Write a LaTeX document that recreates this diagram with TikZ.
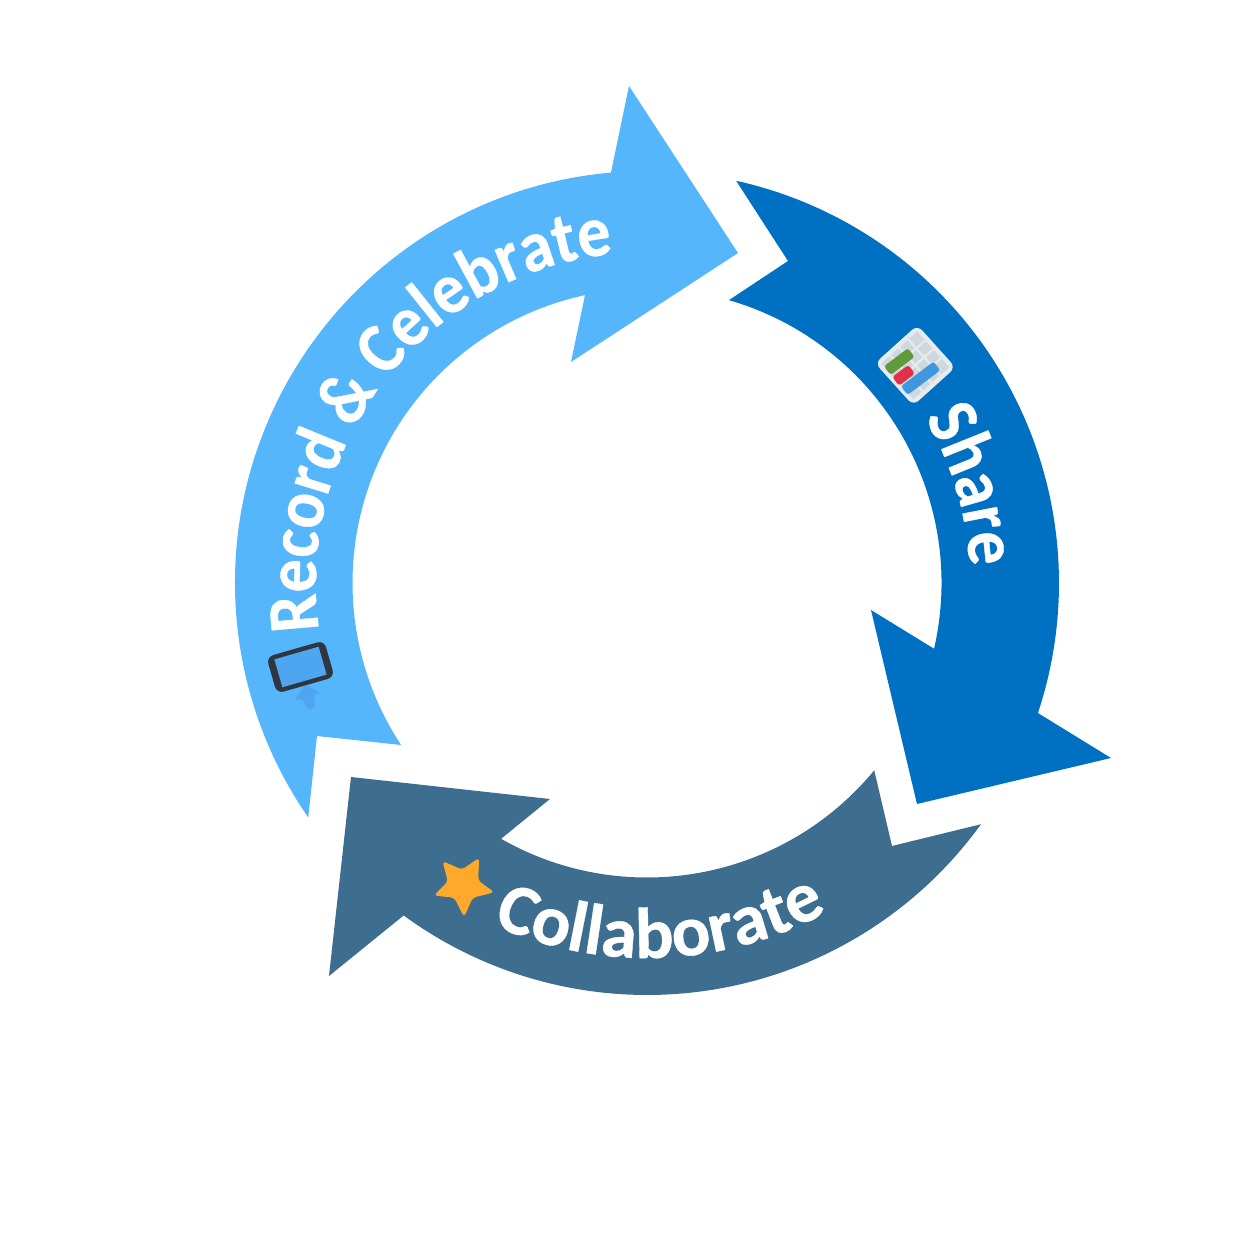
\documentclass[tikz,border=0pt]{standalone}
\usepackage{fontspec}
\setmainfont[BoldFeatures={FakeBold=0.5}, WordSpace=0.7]{Carlito}
\newfontfamily\cycnarrow[BoldFeatures={FakeBold=0.5,FakeStretch=0.92}, WordSpace=0.9]{Carlito}
\usetikzlibrary{decorations.text}
\newcommand{\cycfont}{\fontsize{20.5}{21}\selectfont\bfseries\color{white}}
\newcommand{\cycfontn}{\cycnarrow\fontsize{20.5}{21}\selectfont\bfseries\color{white}}
\begin{document}
\begin{tikzpicture}[x=0.01cm, y=0.01cm, line join=round]

	\definecolor{recordA}{RGB}{86,182,251}
	\definecolor{shareA}{RGB}{0,112,194}
	\definecolor{collabA}{RGB}{61,109,143}
	\definecolor{starA}{RGB}{255,169,43}
	\definecolor{slateA}{RGB}{47,54,64}
	\definecolor{screenA}{RGB}{78,166,240}
	\definecolor{gridA}{RGB}{207,216,220}
	\definecolor{gridB}{RGB}{230,235,238}
	\definecolor{barG}{RGB}{95,154,59}
	\definecolor{barR}{RGB}{226,48,74}
	\definecolor{barB}{RGB}{63,151,224}

	\tikzset{
		cyclabel/.style={decorate, decoration={text along path, text align=center, text={#1}}},
		bar/.style={rounded corners=0.8pt},
	}

	\useasboundingbox (-647,-677) rectangle (613,583);

	% --- Record & Celebrate arrow
	\fill[recordA] (214.69:412) -- (-330,-153) -- (213.37:294.5)
		arc[start angle=213.37, end angle=102.15, radius=294.5]
		-- (-76,221) -- (91,330) -- (-18,497) -- (95.02:412)
		arc[start angle=95.02, end angle=214.69, radius=412] -- cycle;

	% --- Share arrow
	\fill[shareA] (77.5:412) -- (141,322) -- (73.84:294.5)
		arc[start angle=73.84, end angle=-12.9, radius=294.5]
		-- (224,-27) -- (270,-221) -- (464,-175) -- (-18.4:412)
		arc[start angle=-18.4, end angle=77.5, radius=412] -- cycle;

	% --- Collaborate arrow
	\fill[collabA] (-35.84:412) -- (245,-263) -- (-39.5:294.5)
		arc[start angle=-39.5, end angle=-119.7, radius=294.5]
		-- (-97,-216) -- (-296,-194) -- (-318,-393) -- (-126.2:412)
		arc[start angle=-126.2, end angle=-35.84, radius=412] -- cycle;

	% --- labels along the band
	\path[cyclabel={|\cycfontn|Record {\&} Celebrate}] (200:331) arc[start angle=200, end angle=84, radius=331];
	\path[cyclabel={|\cycfontn|Share}] (40:323) arc[start angle=40, end angle=-6.4, radius=323];
	\path[cyclabel={|\cycfont|Collaborate}] (238.2:375) arc[start angle=238.2, end angle=306.2, radius=375];

	% --- chart icon
	\begin{scope}[shift={(268.3,217.7)}]
		\begin{scope}[rotate=42]
			\fill[gridB, rounded corners=2pt] (-28.5,-28.5) rectangle (28.5,28.5);
			\fill[gridA] (-24,-24) rectangle (24,24);
			\foreach \gx in {-12,0,12} {
				\draw[gridB, line width=0.6pt] (\gx,-24) -- (\gx,24);
				\draw[gridB, line width=0.6pt] (-24,\gx) -- (24,\gx);
			}
		\end{scope}
		\fill[bar, barG, shift={(-16,3.7)}, rotate=37] (-15,-5.5) rectangle (15,5.5);
		\fill[bar, barR, shift={(-11.7,-10)}, rotate=37] (-10,-5.5) rectangle (10,5.5);
		\fill[bar, barB, shift={(5.3,-13)}, rotate=37] (-20.5,-5.5) rectangle (20.5,5.5);
	\end{scope}

	% --- tablet icon
	\begin{scope}[shift={(-346.5,-84)}, rotate=16]
		\fill[slateA, rounded corners=2pt] (-30,-19) rectangle (30,19);
		\fill[screenA] (-23,-14.5) rectangle (23,14.5);
	\end{scope}
	\fill[screenA, rounded corners=1pt, shift={(-339,-114)}, rotate=16]
		(0,13) -- (14,0) -- (5,0) -- (5,-12) -- (-5,-12) -- (-5,0) -- (-14,0) -- cycle;

	% --- star icon
	\fill[starA, rounded corners=1pt, shift={(-184,-305)}, scale=1.08]
		(-19,25) -- (-1,17) -- (15,28) -- (14,7) -- (29,-4) -- (9,-9)
		-- (1,-27) -- (-8,-9) -- (-27,-7) -- (-14,6) -- cycle;

\end{tikzpicture}
\end{document}
